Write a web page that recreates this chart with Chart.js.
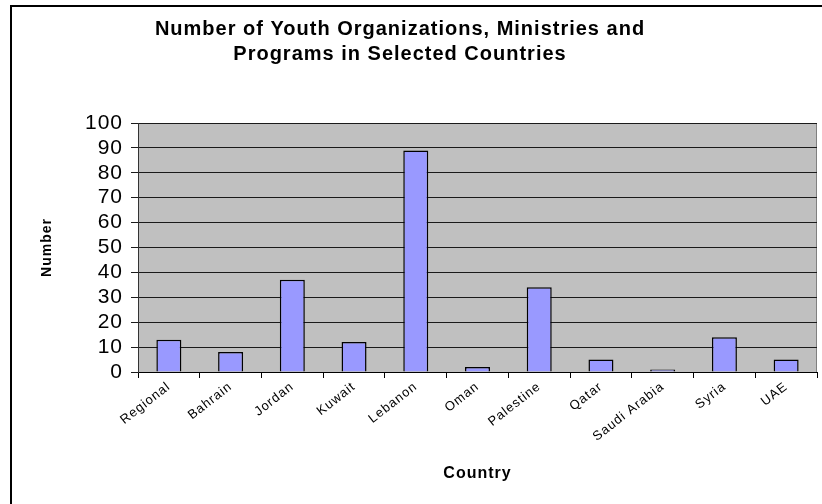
<!DOCTYPE html>
<html>
<head>
<meta charset="utf-8">
<script src="https://cdn.jsdelivr.net/npm/chart.js@4.4.1/dist/chart.umd.min.js"></script>
<style>
  html, body { margin: 0; padding: 0; background: #fff; }
  canvas { display: block; }
</style>
</head>
<body>
<canvas id="youth-chart" width="822" height="504"></canvas>
<script>
const countries = ['Regional', 'Bahrain', 'Jordan', 'Kuwait', 'Lebanon', 'Oman',
  'Palestine', 'Qatar', 'Saudi Arabia', 'Syria', 'UAE'];
const counts = [13, 8, 37, 12, 89, 2, 34, 5, 1, 14, 5];
const yTicks = [0, 10, 20, 30, 40, 50, 60, 70, 80, 90, 100];
const titleLines = ['Number of Youth Organizations, Ministries and', 'Programs in Selected Countries'];

const FONT = '"Liberation Sans", Arial, sans-serif';

// grey plot background, frame and the two-line title
const decorations = {
  id: 'decorations',
  beforeDraw(chart) {
    const { ctx, chartArea: a } = chart;
    ctx.save();
    ctx.fillStyle = '#fff';
    ctx.fillRect(0, 0, chart.width, chart.height);
    ctx.fillStyle = '#c0c0c0';
    ctx.fillRect(a.left, a.top, a.right - a.left, a.bottom - a.top);
    ctx.strokeStyle = '#808080';
    ctx.lineWidth = 1;
    ctx.strokeRect(a.left + 0.5, a.top + 0.5, a.right - a.left - 1, a.bottom - a.top);

    ctx.strokeStyle = '#000';
    ctx.lineWidth = 2;
    ctx.beginPath();
    ctx.moveTo(11, chart.height);
    ctx.lineTo(11, 6);
    ctx.lineTo(chart.width, 6);
    ctx.stroke();

    ctx.fillStyle = '#000';
    ctx.font = 'bold 20px ' + FONT;
    ctx.letterSpacing = '1px';
    ctx.textAlign = 'center';
    ctx.textBaseline = 'middle';
    titleLines.forEach((line, i) => ctx.fillText(line, 400, 29 + i * 25));
    ctx.restore();
    // the source chart's text is drawn slightly wide
    ctx.letterSpacing = '1px';
  },
};

new Chart(document.getElementById('youth-chart'), {
  type: 'bar',
  data: {
    labels: countries,
    datasets: [
      {
        label: 'Number',
        data: counts,
        backgroundColor: '#9999ff',
        borderColor: '#000',
        borderWidth: 1.5,
        categoryPercentage: 0.405,
        barPercentage: 1,
      },
    ],
  },
  options: {
    responsive: false,
    animation: false,
    layout: {
      padding: { top: 123, right: 5, left: 0, bottom: 0 },
    },
    plugins: {
      legend: { display: false },
      tooltip: { enabled: false },
      title: { display: false },
    },
    scales: {
      x: {
        afterFit: (scale) => {
          scale.height = 132;
        },
        grid: {
          offset: true,
          drawOnChartArea: false,
          color: '#000',
          tickLength: 6,
        },
        border: { color: '#000', width: 1 },
        ticks: {
          autoSkip: false,
          minRotation: 38,
          maxRotation: 38,
          padding: 1,
          color: '#000',
          font: { family: FONT, size: 13 },
        },
        title: {
          display: true,
          text: 'Country',
          color: '#000',
          font: { family: FONT, size: 16, weight: 'bold' },
          padding: { top: 0, bottom: 21 },
        },
      },
      y: {
        min: 0,
        max: 100,
        afterFit: (scale) => {
          scale.width = 138;
        },
        afterBuildTicks: (scale) => {
          scale.ticks = yTicks.map((value) => ({ value }));
        },
        grid: {
          color: '#1a1a1a',
          lineWidth: 1,
          tickLength: 7,
        },
        border: { color: '#333', width: 1 },
        ticks: {
          autoSkip: false,
          padding: 8,
          color: '#000',
          font: { family: FONT, size: 21 },
        },
        title: {
          display: true,
          text: 'Number',
          color: '#000',
          font: { family: FONT, size: 14, weight: 'bold' },
          padding: { top: 39, bottom: 0 },
        },
      },
    },
  },
  plugins: [decorations],
});
</script>
</body>
</html>
